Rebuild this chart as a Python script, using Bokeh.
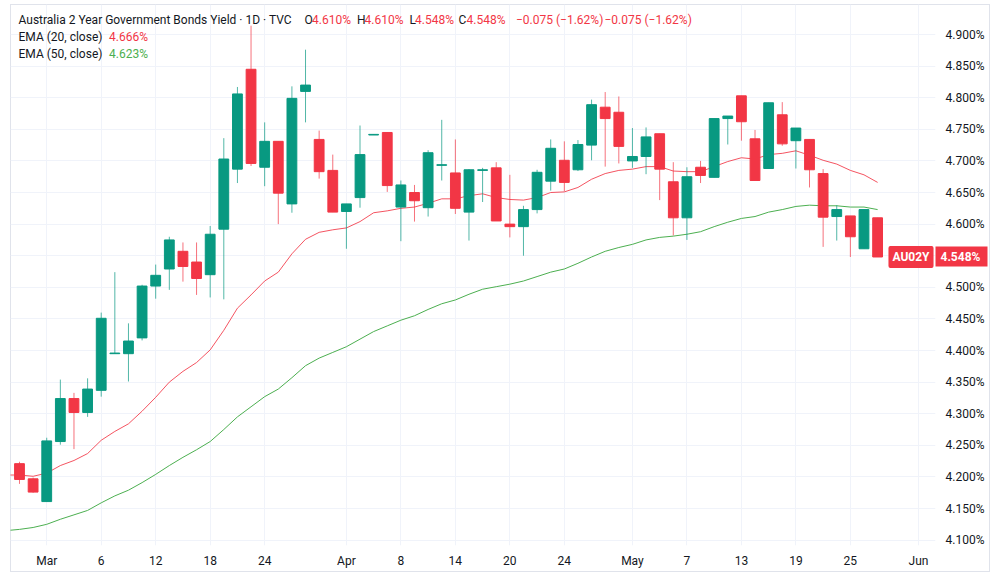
import numpy as np
from bokeh.plotting import figure
from bokeh.models import (Range1d, FixedTicker, PrintfTickFormatter, Label,
                          ColumnDataSource, LinearAxis)
from bokeh.embed import file_html
from bokeh.resources import INLINE

# --- daily sessions (TVC:AU02Y) -------------------------------------------
dates = [
    "2026-02-26", "2026-02-27", "2026-03-02", "2026-03-03", "2026-03-04", "2026-03-05",
    "2026-03-06", "2026-03-09", "2026-03-10", "2026-03-11", "2026-03-12", "2026-03-13",
    "2026-03-16", "2026-03-17", "2026-03-18", "2026-03-19", "2026-03-20", "2026-03-23",
    "2026-03-24", "2026-03-25", "2026-03-26", "2026-03-27", "2026-03-30", "2026-03-31",
    "2026-04-01", "2026-04-02", "2026-04-06", "2026-04-07", "2026-04-08", "2026-04-09",
    "2026-04-10", "2026-04-13", "2026-04-14", "2026-04-15", "2026-04-16", "2026-04-17",
    "2026-04-20", "2026-04-21", "2026-04-22", "2026-04-23", "2026-04-24", "2026-04-27",
    "2026-04-28", "2026-04-29", "2026-04-30", "2026-05-01", "2026-05-04", "2026-05-05",
    "2026-05-06", "2026-05-07", "2026-05-08", "2026-05-11", "2026-05-12", "2026-05-13",
    "2026-05-14", "2026-05-15", "2026-05-18", "2026-05-19", "2026-05-20", "2026-05-21",
    "2026-05-22", "2026-05-25", "2026-05-26", "2026-05-27",
]
opens = [
    4.221, 4.197, 4.161, 4.256, 4.324, 4.302, 4.337, 4.395, 4.395, 4.420, 4.502, 4.529,
    4.557, 4.540, 4.520, 4.592, 4.687, 4.845, 4.690, 4.731, 4.632, 4.810, 4.734, 4.685,
    4.620, 4.642, 4.741, 4.745, 4.627, 4.650, 4.626, 4.693, 4.681, 4.619, 4.685, 4.689,
    4.600, 4.596, 4.623, 4.668, 4.701, 4.686, 4.725, 4.785, 4.777, 4.700, 4.707, 4.743,
    4.667, 4.610, 4.690, 4.674, 4.767, 4.803, 4.735, 4.688, 4.773, 4.732, 4.734, 4.680,
    4.612, 4.613, 4.561, 4.610,
]
highs = [
    4.224, 4.199, 4.262, 4.354, 4.333, 4.356, 4.460, 4.524, 4.443, 4.504, 4.536, 4.580,
    4.571, 4.571, 4.597, 4.736, 4.817, 4.914, 4.761, 4.731, 4.818, 4.876, 4.748, 4.710,
    4.632, 4.756, 4.742, 4.745, 4.669, 4.662, 4.717, 4.765, 4.734, 4.687, 4.689, 4.698,
    4.678, 4.629, 4.686, 4.734, 4.731, 4.733, 4.797, 4.809, 4.802, 4.752, 4.753, 4.743,
    4.698, 4.690, 4.700, 4.767, 4.771, 4.803, 4.749, 4.792, 4.793, 4.752, 4.734, 4.687,
    4.630, 4.613, 4.623, 4.610,
]
lows = [
    4.189, 4.175, 4.161, 4.251, 4.244, 4.295, 4.327, 4.395, 4.351, 4.416, 4.482, 4.496,
    4.509, 4.488, 4.484, 4.481, 4.665, 4.692, 4.660, 4.600, 4.618, 4.761, 4.672, 4.619,
    4.561, 4.626, 4.741, 4.651, 4.573, 4.604, 4.612, 4.669, 4.616, 4.574, 4.635, 4.605,
    4.579, 4.550, 4.617, 4.653, 4.652, 4.684, 4.701, 4.691, 4.696, 4.689, 4.679, 4.638,
    4.582, 4.575, 4.665, 4.674, 4.726, 4.732, 4.669, 4.688, 4.724, 4.688, 4.658, 4.564,
    4.574, 4.548, 4.561, 4.548,
]
closes = [
    4.196, 4.176, 4.257, 4.324, 4.302, 4.339, 4.451, 4.396, 4.415, 4.502, 4.519, 4.575,
    4.533, 4.514, 4.584, 4.703, 4.806, 4.696, 4.731, 4.649, 4.799, 4.820, 4.683, 4.619,
    4.632, 4.710, 4.742, 4.661, 4.662, 4.637, 4.713, 4.694, 4.625, 4.686, 4.686, 4.605,
    4.596, 4.623, 4.682, 4.720, 4.666, 4.726, 4.789, 4.767, 4.723, 4.707, 4.738, 4.687,
    4.610, 4.675, 4.677, 4.767, 4.771, 4.762, 4.669, 4.792, 4.727, 4.752, 4.686, 4.611,
    4.623, 4.580, 4.623, 4.548,
]

# moving averages, starting one session before the first candle
ema_dates = ["2026-02-25"] + dates
ema20 = [
    4.203, 4.203, 4.201, 4.206, 4.218, 4.226, 4.237, 4.258, 4.272, 4.284, 4.304, 4.326,
    4.350, 4.367, 4.381, 4.401, 4.432, 4.467, 4.488, 4.510, 4.524, 4.553, 4.576, 4.587,
    4.591, 4.594, 4.604, 4.618, 4.621, 4.625, 4.627, 4.633, 4.640, 4.640, 4.645, 4.648,
    4.642, 4.639, 4.638, 4.642, 4.650, 4.651, 4.658, 4.671, 4.680, 4.685, 4.687, 4.691,
    4.691, 4.684, 4.683, 4.683, 4.691, 4.699, 4.705, 4.703, 4.710, 4.712, 4.716, 4.709,
    4.701, 4.695, 4.685, 4.678, 4.666,
]
ema50 = [
    4.115, 4.117, 4.120, 4.125, 4.133, 4.140, 4.147, 4.159, 4.170, 4.179, 4.191, 4.204,
    4.218, 4.231, 4.243, 4.256, 4.275, 4.295, 4.311, 4.327, 4.339, 4.357, 4.376, 4.388,
    4.397, 4.406, 4.418, 4.430, 4.439, 4.448, 4.455, 4.465, 4.474, 4.480, 4.489, 4.497,
    4.501, 4.505, 4.510, 4.517, 4.524, 4.529, 4.538, 4.548, 4.557, 4.563, 4.568, 4.575,
    4.579, 4.581, 4.584, 4.588, 4.596, 4.603, 4.609, 4.612, 4.619, 4.623, 4.628, 4.630,
    4.629, 4.629, 4.627, 4.627, 4.623,
]

# time-scale labels and price-scale levels
tick_dates = ["2026-03-02", "2026-03-06", "2026-03-12", "2026-03-18", "2026-03-24",
              "2026-04-01", "2026-04-08", "2026-04-14", "2026-04-20", "2026-04-24",
              "2026-05-01", "2026-05-07", "2026-05-13", "2026-05-19", "2026-05-25",
              "2026-06-01"]
tick_labels = ["Mar", "6", "12", "18", "24", "Apr", "8", "14", "20", "24",
               "May", "7", "13", "19", "25", "Jun"]
price_levels = [4.10, 4.15, 4.20, 4.25, 4.30, 4.35, 4.40, 4.45, 4.50,
                4.55, 4.60, 4.65, 4.70, 4.75, 4.80, 4.85, 4.90]
holidays = ["2026-04-03"]

symbol = "AU02Y"
title = "Australia 2 Year Government Bonds Yield \u00b7 1D \u00b7 TVC"

# --- styling --------------------------------------------------------------
UP = "#089981"
DOWN = "#F23645"
TEXT = "#131722"
GRID = "#f0f3fa"
EDGE = "#e0e3eb"
FONT = "Roboto"


def session_index(ds):
    """Position of a date on a trading-session (gapless) time scale."""
    d = np.array(ds, dtype="datetime64[D]")
    return np.busday_count(np.datetime64(dates[0], "D"), d, holidays=holidays)


x = session_index(dates)
o = np.array(opens)
h = np.array(highs)
l = np.array(lows)
c = np.array(closes)
up = c >= o
colors = [UP if u else DOWN for u in up]

src = ColumnDataSource(dict(
    x=x, high=h, low=l,
    top=np.maximum(o, c), bottom=np.minimum(o, c),
    color=colors,
))

# thin container frame around the whole widget (pane + scales)
line = f"linear-gradient({EDGE},{EDGE})"
container_css = {
    "background": (
        f"{line} 10px 4px / 980px 1px no-repeat, "
        f"{line} 10px 571px / 980px 1px no-repeat, "
        f"{line} 10px 4px / 1px 568px no-repeat, "
        f"{line} 989px 4px / 1px 568px no-repeat, white"
    ),
}

p = figure(
    width=1000, height=578,
    output_backend="svg", toolbar_location=None,
    x_range=Range1d(-0.66, 67.25), y_range=Range1d(4.0915, 4.9475),
    y_axis_location="right",
    min_border_left=10, min_border_right=65,
    min_border_top=4, min_border_bottom=33,
    background_fill_color=None, border_fill_color=None,
    styles=container_css,
)
p.outline_line_color = None

# grid
tick_x = [int(v) for v in session_index(tick_dates)]
p.xgrid.ticker = FixedTicker(ticks=tick_x)
p.ygrid.ticker = FixedTicker(ticks=price_levels)
for g in (p.xgrid, p.ygrid):
    g.grid_line_color = GRID
    g.grid_line_width = 1

# time axis
xa = p.xaxis[0]
xa.ticker = FixedTicker(ticks=tick_x)
xa.major_label_overrides = {t: lab for t, lab in zip(tick_x, tick_labels)}
xa.axis_line_color = None
xa.major_tick_line_color = None
xa.minor_tick_line_color = None
xa.major_label_standoff = 2
xa.major_label_text_font = FONT
xa.major_label_text_font_size = "12px"
xa.major_label_text_color = TEXT

# price axis
ya = p.yaxis[0]
ya.ticker = FixedTicker(ticks=price_levels)
ya.formatter = PrintfTickFormatter(format="%.3f%%")
ya.axis_line_color = None
ya.major_tick_line_color = None
ya.minor_tick_line_color = None
ya.major_label_standoff = 4
ya.major_label_text_font = FONT
ya.major_label_text_font_size = "12px"
ya.major_label_text_color = TEXT

# moving averages
ex = session_index(ema_dates)
p.line(ex, ema50, line_color="#4CAF50", line_width=1)
p.line(ex, ema20, line_color="#F23645", line_width=1, line_alpha=0.85)

# candles
p.segment(x0="x", y0="low", x1="x", y1="high", line_color="color", line_width=1,
          line_alpha=0.7, source=src)
p.vbar(x="x", width=0.72, top="top", bottom="bottom", fill_color="color",
       line_color="color", line_width=1, source=src)

# --- legend / header -------------------------------------------------------
chg = closes[-1] - closes[-2]
pct = chg / closes[-2] * 100


def signed(v, fmt):
    s = format(abs(v), fmt)
    return ("\u2212" if v < 0 else "+") + s


chg_txt = f"{signed(chg, '.3f')} ({signed(pct, '.2f')}%)"
val_color = DOWN if chg < 0 else UP

header = [
    (title, TEXT, 8),
    ("O", TEXT, 294), (f"{opens[-1]:.3f}%", val_color, 301.5),
    ("H", TEXT, 346.5), (f"{highs[-1]:.3f}%", val_color, 354),
    ("L", TEXT, 399), (f"{lows[-1]:.3f}%", val_color, 404.5),
    ("C", TEXT, 448), (f"{closes[-1]:.3f}%", val_color, 456),
    (chg_txt, val_color, 505.5), (chg_txt, val_color, 594),
]
for txt, col, lx in header:
    p.add_layout(Label(x=lx, y=525.5, x_units="screen", y_units="screen", text=txt,
                       text_font=FONT, text_font_size="12px", text_color=col,
                       text_baseline="middle", text_align="left"))

ema_rows = [("EMA (20, close)", f"{ema20[-1]:.3f}%", "#F23645", 508.3),
            ("EMA (50, close)", f"{ema50[-1]:.3f}%", "#4CAF50", 491.7)]
for name, val, col, ly in ema_rows:
    p.add_layout(Label(x=8, y=ly, x_units="screen", y_units="screen", text=name,
                       text_font=FONT, text_font_size="12px", text_color=TEXT,
                       text_baseline="middle", text_align="left"))
    p.add_layout(Label(x=98.5, y=ly, x_units="screen", y_units="screen", text=val,
                       text_font=FONT, text_font_size="12px", text_color=col,
                       text_baseline="middle", text_align="left"))

# last price: symbol tag on the pane, value tag on the price scale
last = closes[-1]
p.add_layout(Label(x=900.5, y=last, x_units="screen", y_units="data", text=symbol,
                   text_font=FONT, text_font_size="12px", text_font_style="bold",
                   text_color="white", text_align="center", text_baseline="middle",
                   background_fill_color=DOWN, padding=4, border_radius=2))

last_axis = LinearAxis(
    ticker=FixedTicker(ticks=[last]),
    formatter=PrintfTickFormatter(format="%.3f%%"),
    axis_line_color=None,
    minor_tick_line_color=None,
    major_tick_line_color=DOWN, major_tick_line_width=20,
    major_tick_line_cap="butt",
    major_tick_in=52, major_tick_out=0,
    major_label_standoff=-47,
    major_label_text_font=FONT, major_label_text_font_size="12px",
    major_label_text_font_style="bold", major_label_text_color="white",
)
p.add_layout(last_axis, "right")

open("out.html", "w").write(file_html(p, INLINE))
